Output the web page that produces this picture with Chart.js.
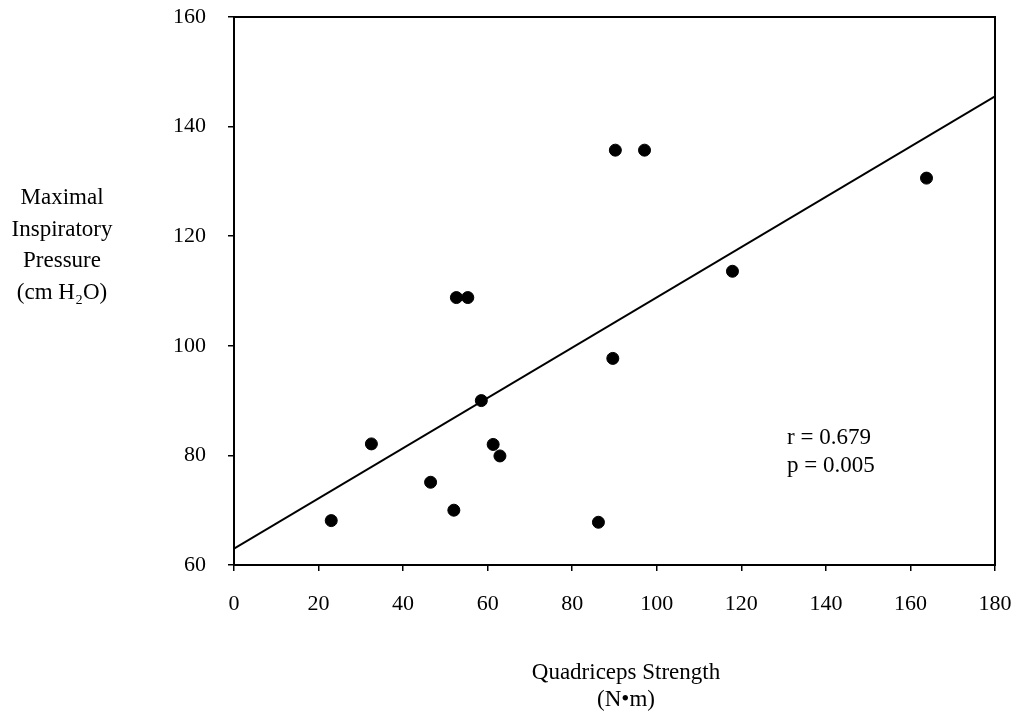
<!DOCTYPE html>
<html>
<head>
<meta charset="utf-8">
<script src="https://cdn.jsdelivr.net/npm/chart.js@4.4.0/dist/chart.umd.min.js"></script>
<style>
  html, body { margin: 0; padding: 0; background: #fff; }
  #wrap { width: 1016px; height: 717px; }
</style>
</head>
<body>
<div id="wrap"><canvas id="chart" width="1016" height="717"></canvas></div>
<script>
// quadriceps strength (N·m) vs maximal inspiratory pressure (cm H2O)
const strength = [23, 32.5, 46.5, 52, 52.6, 55.3, 58.5, 61.3, 62.9, 86.2, 89.6, 90.2, 97.1, 117.9, 163.8];
const pressure = [68.1, 82.1, 75.1, 70, 108.8, 108.8, 90, 82, 79.9, 67.8, 97.7, 135.7, 135.7, 113.6, 130.6];

// regression line end points
const fitX = [0, 180];
const fitY = [63, 145.5];

const xTickValues = [0, 20, 40, 60, 80, 100, 120, 140, 160, 180];
const yTickValues = [60, 80, 100, 120, 140, 160];

const yTitle = ["Maximal", "Inspiratory", "Pressure", "(cm H\u2082O)"];
const xTitle = ["Quadriceps Strength", "(N\u2022m)"];
const stats = ["r = 0.679", "p = 0.005"];

const serif = "'Liberation Serif', 'Times New Roman', serif";

const extras = {
  id: "extras",
  afterDraw(chart) {
    const ctx = chart.ctx;
    const a = chart.chartArea;
    ctx.save();
    // box round the plot
    ctx.strokeStyle = "#000";
    ctx.lineWidth = 2;
    ctx.strokeRect(a.left, a.top, a.right - a.left, a.bottom - a.top);

    ctx.fillStyle = "#000";
    ctx.font = "23px " + serif;
    ctx.textAlign = "center";
    ctx.textBaseline = "middle";
    yTitle.forEach((t, i) => ctx.fillText(t, 62, 198 + i * 31.5));
    xTitle.forEach((t, i) => ctx.fillText(t, 626, 673 + i * 27));

    ctx.textAlign = "left";
    stats.forEach((t, i) => ctx.fillText(t, 787, 438 + i * 28));
    ctx.restore();
  }
};

new Chart(document.getElementById("chart"), {
  type: "scatter",
  data: {
    datasets: [
      {
        data: strength.map((x, i) => ({ x: x, y: pressure[i] })),
        backgroundColor: "#000",
        borderColor: "#000",
        pointRadius: 6,
        pointHoverRadius: 6,
      },
      {
        data: fitX.map((x, i) => ({ x: x, y: fitY[i] })),
        showLine: true,
        borderColor: "#000",
        borderWidth: 2,
        pointRadius: 0,
        pointHoverRadius: 0,
      },
    ],
  },
  options: {
    responsive: false,
    animation: false,
    layout: { padding: { top: 17, right: 21, left: 0, bottom: 0 } },
    plugins: {
      legend: { display: false },
      tooltip: { enabled: false },
    },
    scales: {
      x: {
        type: "linear",
        min: 0,
        max: 180,
        afterBuildTicks: (s) => { s.ticks = xTickValues.map((v) => ({ value: v })); },
        afterFit: (s) => { s.height = 152; s.paddingLeft = 0; s.paddingRight = 0; },
        grid: { drawOnChartArea: false, color: "#000", tickLength: 6, lineWidth: 1.5 },
        border: { color: "#000", width: 2 },
        ticks: { color: "#000", font: { family: serif, size: 22 }, padding: 20, maxRotation: 0 },
      },
      y: {
        type: "linear",
        min: 60,
        max: 160,
        afterBuildTicks: (s) => { s.ticks = yTickValues.map((v) => ({ value: v })); },
        afterFit: (s) => { s.width = 234; s.paddingTop = 0; s.paddingBottom = 0; },
        grid: { drawOnChartArea: false, color: "#000", tickLength: 6, lineWidth: 1.5 },
        border: { color: "#000", width: 2 },
        ticks: { color: "#000", font: { family: serif, size: 22 }, padding: 22 },
      },
    },
  },
  plugins: [extras],
});
</script>
</body>
</html>
